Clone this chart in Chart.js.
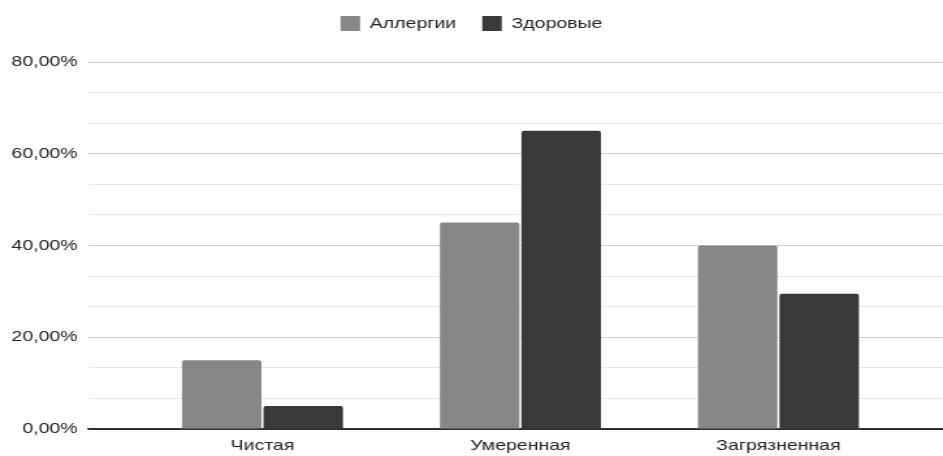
<!DOCTYPE html>
<html>
<head>
<meta charset="utf-8">
<script src="https://cdn.jsdelivr.net/npm/chart.js@4.4.1/dist/chart.umd.min.js"></script>
<style>
  html, body { margin: 0; padding: 0; background: #ffffff; overflow: hidden; }
  /* the chart is laid out narrow and widened horizontally */
  #wrap { width: 725px; height: 456px; position: relative; transform: scaleX(1.3007); transform-origin: 0 0; }
</style>
</head>
<body>
<div id="wrap"><canvas id="chart"></canvas></div>
<script>
// Air quality categories and the share of children in each group
const categories = ['Чистая', 'Умеренная', 'Загрязненная'];
const allergyShare = [0.15, 0.45, 0.40];
const healthyShare = [0.05, 0.65, 0.295];
const seriesNames = ['Аллергии', 'Здоровые'];
// labelled ticks every 20 %, two unlabelled grid lines between them
const yLabelTicks = [0, 0.2, 0.4, 0.6, 0.8];
const yMinorPerStep = 3;

const FONT = '"Liberation Sans", Arial, sans-serif';

function toPoints(values) {
  return values.map((v, i) => ({ x: i, y: v }));
}

function pct(v) {
  return (Math.round(v * 10000) / 100).toFixed(2).replace('.', ',') + '%';
}

function buildYTicks() {
  const ticks = [];
  for (let i = 0; i < yLabelTicks.length; i++) {
    ticks.push({ value: yLabelTicks[i], major: true });
    if (i < yLabelTicks.length - 1) {
      const step = (yLabelTicks[i + 1] - yLabelTicks[i]) / yMinorPerStep;
      for (let k = 1; k < yMinorPerStep; k++) {
        ticks.push({ value: yLabelTicks[i] + step * k, major: false });
      }
    }
  }
  return ticks;
}

// fixed legend band height so the plot starts at the same place
function fixLegendHeight(chart) {
  const lg = chart.legend;
  if (lg && !lg._bandFixed) {
    const origFit = lg.fit.bind(lg);
    lg.fit = function () {
      origFit();
      this.height = 66;
    };
    lg._bandFixed = true;
  }
}
const legendBand = {
  id: 'legendBand',
  beforeInit: fixLegendHeight,
  beforeUpdate: fixLegendHeight,
  beforeLayout: fixLegendHeight
};

new Chart(document.getElementById('chart'), {
  type: 'bar',
  plugins: [legendBand],
  data: {
    datasets: [
      {
        label: seriesNames[0],
        data: toPoints(allergyShare),
        backgroundColor: '#878787',
        borderRadius: 2,
        borderSkipped: 'bottom'
      },
      {
        label: seriesNames[1],
        data: toPoints(healthyShare),
        backgroundColor: '#393939',
        borderRadius: 2,
        borderSkipped: 'bottom'
      }
    ]
  },
  options: {
    responsive: true,
    maintainAspectRatio: false,
    animation: false,
    datasets: {
      bar: { categoryPercentage: 0.632, barPercentage: 0.975 }
    },
    layout: { padding: { left: 0, right: 0, top: -4, bottom: 0 } },
    plugins: {
      tooltip: { enabled: false },
      legend: {
        position: 'top',
        align: 'center',
        labels: {
          font: { family: FONT, size: 15 },
          color: '#222222',
          boxWidth: 15,
          boxHeight: 15,
          padding: 20
        }
      }
    },
    scales: {
      x: {
        type: 'linear',
        offset: false,
        min: -0.676,
        max: 2.638,
        afterBuildTicks(scale) {
          scale.ticks = categories.map((c, i) => ({ value: i }));
        },
        afterFit(scale) { scale.height = 27; },
        grid: { display: false, drawTicks: false },
        border: { display: true, color: '#333333', width: 1.5 },
        ticks: {
          callback: (v) => categories[v] ?? '',
          font: { family: FONT, size: 15 },
          color: '#222222',
          padding: 8,
          maxRotation: 0,
          autoSkip: false
        }
      },
      y: {
        min: 0,
        max: 0.8,
        afterBuildTicks(scale) {
          scale.ticks = buildYTicks();
        },
        afterFit(scale) { scale.width = 67.7; },
        border: { display: false },
        grid: {
          drawTicks: false,
          color: (ctx) => {
            if (Math.abs(ctx.tick.value) < 1e-9) return '#333333';
            return ctx.tick.major ? '#cfcfcf' : '#e8e8e8';
          },
          lineWidth: 1
        },
        ticks: {
          callback: function (v, i, ticks) { return ticks[i].major ? pct(v) : ''; },
          font: { family: FONT, size: 15 },
          color: '#222222',
          padding: 8
        }
      }
    }
  }
});
</script>
</body>
</html>
